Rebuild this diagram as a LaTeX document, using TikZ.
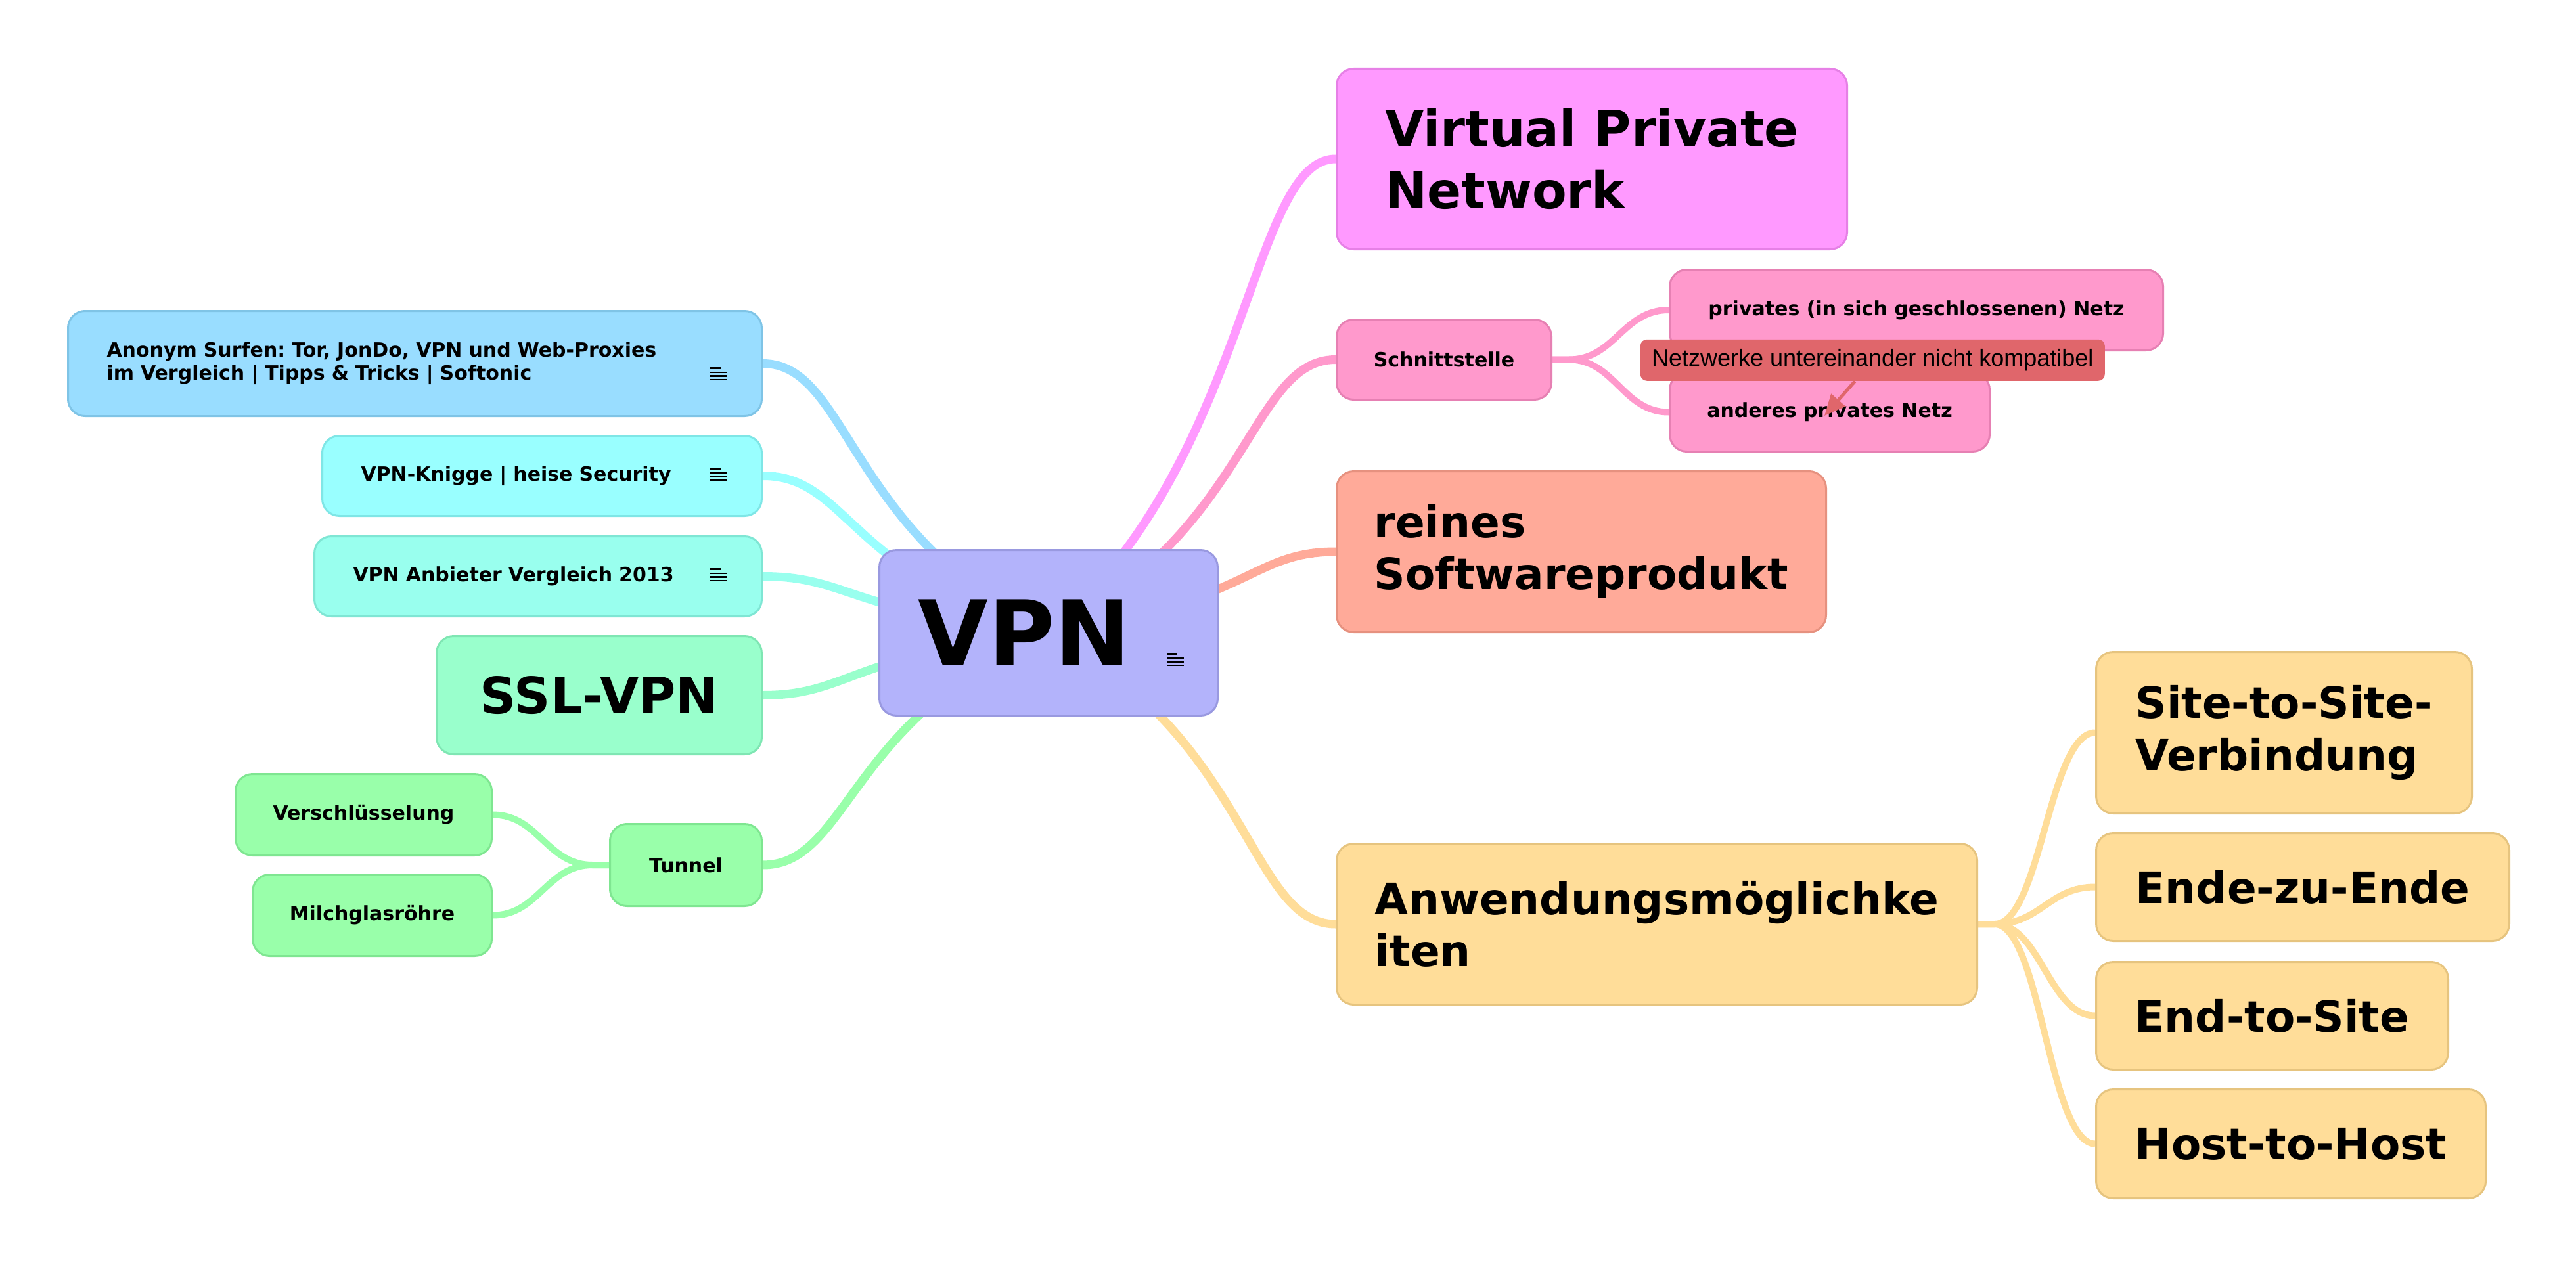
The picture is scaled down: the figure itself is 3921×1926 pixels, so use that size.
\documentclass[tikz,border=0pt]{standalone}
\usepackage{fontspec}
\setmainfont{DejaVu Sans}
\newfontfamily\calloutfont{Liberation Sans}
\usetikzlibrary{calc,backgrounds,arrows.meta}
\hyphenpenalty=10000
\exhyphenpenalty=10000
\frenchspacing

\definecolor{vpnfill}{RGB}{179,179,251}
\definecolor{vpnline}{RGB}{153,153,224}
\definecolor{virtfill}{RGB}{255,153,255}
\definecolor{virtline}{RGB}{230,128,230}
\definecolor{schnittfill}{RGB}{255,153,204}
\definecolor{schnittline}{RGB}{230,128,179}
\definecolor{reinesfill}{RGB}{255,170,153}
\definecolor{reinesline}{RGB}{230,145,127}
\definecolor{anwfill}{RGB}{255,221,153}
\definecolor{anwline}{RGB}{230,196,127}
\definecolor{anonfill}{RGB}{153,221,255}
\definecolor{anonline}{RGB}{127,196,230}
\definecolor{kniggefill}{RGB}{153,255,255}
\definecolor{kniggeline}{RGB}{127,230,230}
\definecolor{anbieterfill}{RGB}{153,255,238}
\definecolor{anbieterline}{RGB}{127,230,212}
\definecolor{sslfill}{RGB}{153,255,204}
\definecolor{sslline}{RGB}{127,230,179}
\definecolor{tunnelfill}{RGB}{153,255,170}
\definecolor{tunnelline}{RGB}{127,230,145}
\definecolor{calloutred}{RGB}{224,102,107}

\tikzset{every picture/.style={line width=0.75pt}}
\tikzset{
  topic/.style={draw, rounded corners=6.5pt, line width=0.75pt, anchor=north west, inner xsep=4pt, inner ysep=0pt, align=left},
  centraltext/.style={font=\bfseries\fontsize{34.5pt}{41pt}\selectfont},
  largetext/.style={font=\bfseries\fontsize{19.2pt}{23.4pt}\selectfont},
  midtext/.style={font=\bfseries\fontsize{16.5pt}{19.8pt}\selectfont},
  smalltext/.style={font=\bfseries\fontsize{7.5pt}{8.75pt}\selectfont},
  branch/.style={line width=3.25pt},
  subbranch/.style={line width=2.5pt},
  callarrow/.style={calloutred, line width=1.25pt, -{Triangle[length=8pt,width=7pt]}},
  noteicon/.pic={
    \draw[line width=0.6pt] (-13,-8.5) -- (13,-8.5) (-13,-3) -- (13,-3) (-13,2.5) -- (13,2.5) (-13,9) -- (3,9);
  }
}

\begin{document}
\begin{tikzpicture}[x=0.25pt,y=0.25pt,yscale=-1,xscale=1]
\useasboundingbox (0,0) rectangle (3921,1926);

% central topic
\node (vpn) [topic, centraltext, draw=vpnline, fill=vpnfill, text width=99.25pt, inner xsep=14.75pt, minimum height=63pt] at (1337,836) {VPN};
\pic at ($(vpn.east)+(-66,41)$) {noteicon};

% right side
\node (virt) [topic, largetext, draw=virtline, fill=virtfill, minimum width=194.25pt, minimum height=68.75pt] at (2033,103) {Virtual Private\\Network};
\node (schnitt) [topic, smalltext, draw=schnittline, fill=schnittfill, minimum width=81.75pt, minimum height=30.5pt] at (2033,485) {Schnittstelle};
\node (priv) [topic, smalltext, draw=schnittline, fill=schnittfill, minimum width=187.75pt, minimum height=30.75pt] at (2540,409) {privates (in sich geschlossenen) Netz};
\node (anders) [topic, smalltext, draw=schnittline, fill=schnittfill, minimum width=121.75pt, minimum height=30pt] at (2540,566) {anderes privates Netz};
\node (reines) [topic, midtext, draw=reinesline, fill=reinesfill, minimum width=186.25pt, minimum height=61.25pt] at (2033,716) {reines\\Softwareprodukt};
\node (anw) [topic, midtext, draw=anwline, fill=anwfill, minimum width=243.75pt, minimum height=61.25pt] at (2033,1283) {Anwendungsmöglichke\\iten};
\node (site) [topic, midtext, draw=anwline, fill=anwfill, minimum width=143pt, minimum height=61.5pt] at (3189,991) {Site-to-Site-\\Verbindung};
\node (ende) [topic, midtext, draw=anwline, fill=anwfill, minimum width=157.25pt, minimum height=41pt] at (3189,1267) {Ende-zu-Ende};
\node (endsite) [topic, midtext, draw=anwline, fill=anwfill, minimum width=134pt, minimum height=41pt] at (3189,1463) {End-to-Site};
\node (host) [topic, midtext, draw=anwline, fill=anwfill, minimum width=148.25pt, minimum height=41.5pt] at (3189,1657) {Host-to-Host};

% left side
\node (anon) [topic, smalltext, draw=anonline, fill=anonfill, text width=234.5pt, inner xsep=14.75pt, minimum height=40pt] at (102,472) {Anonym Surfen: Tor, JonDo, VPN und Web-Proxies\\im Vergleich | Tipps \& Tricks | Softonic};
\pic at ($(anon.east)+(-67,16)$) {noteicon};
\node (knigge) [topic, smalltext, draw=kniggeline, fill=kniggefill, text width=137.75pt, inner xsep=14.75pt, minimum height=30.5pt] at (489,662) {VPN-Knigge | heise Security};
\pic at ($(knigge.east)+(-67,-2)$) {noteicon};
\node (anbieter) [topic, smalltext, draw=anbieterline, fill=anbieterfill, text width=140.75pt, inner xsep=14.75pt, minimum height=30.5pt] at (477,815) {VPN Anbieter Vergleich 2013};
\pic at ($(anbieter.east)+(-67,-2)$) {noteicon};
\node (ssl) [topic, largetext, draw=sslline, fill=sslfill, minimum width=123.75pt, minimum height=45pt] at (663,967) {SSL-VPN};
\node (tunnel) [topic, smalltext, draw=tunnelline, fill=tunnelfill, minimum width=57.75pt, minimum height=31.25pt] at (927,1253) {Tunnel};
\node (versch) [topic, smalltext, draw=tunnelline, fill=tunnelfill, minimum width=97.5pt, minimum height=31pt] at (357,1177) {Verschlüsselung};
\node (milch) [topic, smalltext, draw=tunnelline, fill=tunnelfill, minimum width=91pt, minimum height=31pt] at (383,1330) {Milchglasröhre};

% branches
\begin{pgfonlayer}{background}
\draw[branch, virtfill] (vpn.center) .. controls ($(vpn.center)+(307,-260)$) and ($(virt.west)+(-131,0)$) .. (virt.west);
\draw[branch, schnittfill] (vpn.center) .. controls ($(vpn.center)+(307,-150)$) and ($(schnitt.west)+(-131,0)$) .. (schnitt.west);
\draw[branch, reinesfill] (vpn.center) .. controls ($(vpn.center)+(307,-44)$) and ($(reines.west)+(-131,0)$) .. (reines.west);
\draw[branch, anwfill] (vpn.center) .. controls ($(vpn.center)+(307,160)$) and ($(anw.west)+(-131,0)$) .. (anw.west);
\draw[branch, anonfill] (vpn.center) .. controls ($(vpn.center)+(-306,-148)$) and ($(anon.east)+(131,0)$) .. (anon.east);
\draw[branch, kniggefill] (vpn.center) .. controls ($(vpn.center)+(-306,-86)$) and ($(knigge.east)+(131,0)$) .. (knigge.east);
\draw[branch, anbieterfill] (vpn.center) .. controls ($(vpn.center)+(-306,-31)$) and ($(anbieter.east)+(131,0)$) .. (anbieter.east);
\draw[branch, sslfill] (vpn.center) .. controls ($(vpn.center)+(-306,34)$) and ($(ssl.east)+(131,0)$) .. (ssl.east);
\draw[branch, tunnelfill] (vpn.center) .. controls ($(vpn.center)+(-306,127)$) and ($(tunnel.east)+(131,0)$) .. (tunnel.east);
% sub-branches
\draw[subbranch, schnittfill] (schnitt.east) -- ++(25,0) .. controls +(70,0) and ($(priv.west)+(-70,0)$) .. (priv.west);
\draw[subbranch, schnittfill] (schnitt.east) -- ++(25,0) .. controls +(70,0) and ($(anders.west)+(-70,0)$) .. (anders.west);
\draw[subbranch, anwfill] (anw.east) -- ++(25,0) .. controls +(70,0) and ($(site.west)+(-70,0)$) .. (site.west);
\draw[subbranch, anwfill] (anw.east) -- ++(25,0) .. controls +(70,0) and ($(ende.west)+(-70,0)$) .. (ende.west);
\draw[subbranch, anwfill] (anw.east) -- ++(25,0) .. controls +(70,0) and ($(endsite.west)+(-70,0)$) .. (endsite.west);
\draw[subbranch, anwfill] (anw.east) -- ++(25,0) .. controls +(70,0) and ($(host.west)+(-70,0)$) .. (host.west);
\draw[subbranch, tunnelfill] (tunnel.west) -- ++(-25,0) .. controls +(-70,0) and ($(versch.east)+(70,0)$) .. (versch.east);
\draw[subbranch, tunnelfill] (tunnel.west) -- ++(-25,0) .. controls +(-70,0) and ($(milch.east)+(70,0)$) .. (milch.east);
\end{pgfonlayer}

% callout
\node (callout) [fill=calloutred, rounded corners=2.5pt, anchor=north west, minimum width=176.75pt, minimum height=15.75pt, inner sep=0pt, font=\calloutfont\fontsize{9pt}{10.8pt}\selectfont] at (2496,516) {Netzwerke untereinander nicht kompatibel};
\coordinate (calltip) at ($(anders.north west)+(237,67)$);
\draw[callarrow] ($(callout.south)+(-27,0)$) -- (calltip);

\end{tikzpicture}
\end{document}
